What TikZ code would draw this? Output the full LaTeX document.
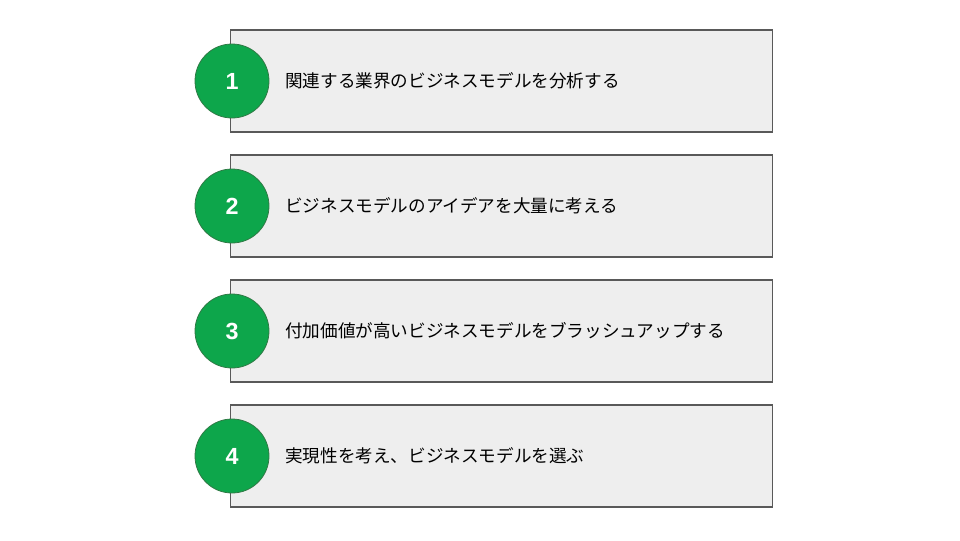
\documentclass[tikz,border=0pt]{standalone}
\usepackage{fontspec}
\setmainfont{Liberation Sans}
\newfontfamily\jpfont{Noto Sans CJK JP}
\definecolor{stepfill}{HTML}{EEEEEE}
\definecolor{stepline}{HTML}{595959}
\definecolor{numgreen}{HTML}{0DA64B}
\definecolor{numline}{HTML}{2F7A45}
\tikzset{
    stepbox/.style={draw=stepline, fill=stepfill, line width=0.8pt, minimum width=406pt, minimum height=76.5pt, inner sep=0pt},
    numdot/.style={circle, draw=numline, fill=numgreen, line width=0.6pt, minimum size=55.5pt, inner sep=0pt, text=white, font=\fontsize{17.5}{20}\selectfont\bfseries},
    steptext/.style={anchor=west, inner sep=0pt, font=\jpfont\fontsize{13.2}{16}\selectfont}
}
\begin{document}
\begin{tikzpicture}[x=0.75pt,y=-0.75pt]
        \useasboundingbox (0,0) rectangle (960,540);
        \node[stepbox] (box1) at (501.5,81) {};
        \node[stepbox] (box2) at (501.5,206) {};
        \node[stepbox] (box3) at (501.5,331) {};
        \node[stepbox] (box4) at (501.5,456) {};
        \node[numdot] (num1) at (232,81) {1};
        \node[numdot] (num2) at (232,206) {2};
        \node[numdot] (num3) at (232,331) {3};
        \node[numdot] (num4) at (232,456) {4};
        \node[steptext] (text1) at (285,81) {関連する業界のビジネスモデルを分析する};
        \node[steptext] (text2) at (285,206) {ビジネスモデルのアイデアを大量に考える};
        \node[steptext] (text3) at (285,331) {付加価値が高いビジネスモデルをブラッシュアップする};
        \node[steptext] (text4) at (285,456) {実現性を考え、ビジネスモデルを選ぶ};
    \end{tikzpicture}
\end{document}
